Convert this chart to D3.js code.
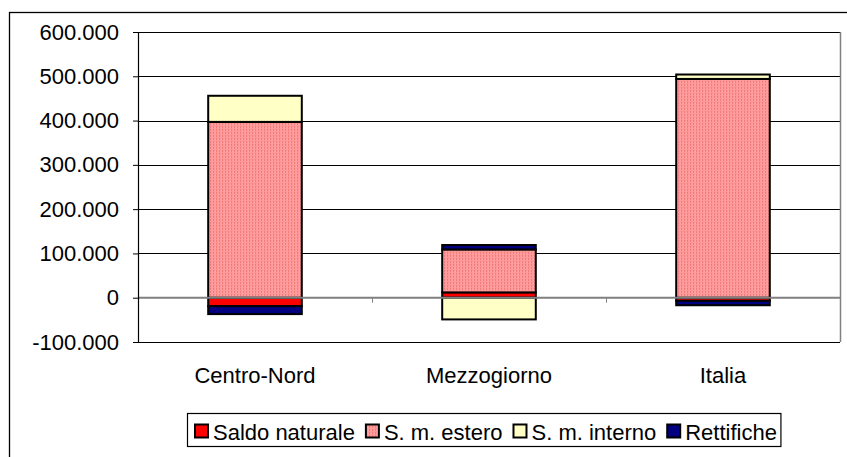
<!DOCTYPE html>
<html>
<head>
<meta charset="utf-8">
<script src="https://cdn.jsdelivr.net/npm/d3@7/dist/d3.min.js"></script>
<style>
  html, body { margin: 0; padding: 0; background: #fff; }
  svg { display: block; }
  text { font-family: Arial, "Liberation Sans", sans-serif; fill: #000; }
</style>
</head>
<body>
<svg id="chart" width="847" height="457"></svg>
<script>
// Population balance components by area
const categories = ["Centro-Nord", "Mezzogiorno", "Italia"];
const seriesNames = ["Saldo naturale", "S. m. estero", "S. m. interno", "Rettifiche"];
const saldoNaturale = [-19000, 12000, -7000];
const smEstero = [397000, 97000, 494000];
const smInterno = [59000, -49000, 10000];
const rettifiche = [-18000, 10000, -10000];
const yTicks = [-100000, 0, 100000, 200000, 300000, 400000, 500000, 600000];
const seriesColors = ["#ff0000", "url(#pinkDots)", "#ffffc6", "#000080"];

const rows = categories.map((c, i) => ({
  cat: c,
  "Saldo naturale": saldoNaturale[i],
  "S. m. estero": smEstero[i],
  "S. m. interno": smInterno[i],
  "Rettifiche": rettifiche[i]
}));

const svg = d3.select("#chart");
const fontSize = 22;

// Italian-style number format: dot as thousands separator, hyphen minus
const itFormat = d3.formatLocale({ decimal: ",", thousands: ".", grouping: [3], currency: ["", "€"], minus: "-" }).format(",");

// Pink fill with a fine dotted texture
const defs = svg.append("defs");
const pat = defs.append("pattern").attr("id", "pinkDots")
  .attr("patternUnits", "userSpaceOnUse").attr("width", 3).attr("height", 3);
pat.append("rect").attr("width", 3).attr("height", 3).attr("fill", "#ff9999");
pat.append("rect").attr("x", 0).attr("y", 0).attr("width", 1).attr("height", 2).attr("fill", "#ef7b7b");
pat.append("rect").attr("x", 2).attr("y", 1).attr("width", 1).attr("height", 1).attr("fill", "#ffaaaa");

// Outer chart frame
svg.append("rect").attr("x", 9.5).attr("y", 12.5).attr("width", 860).attr("height", 460)
  .attr("fill", "none").attr("stroke", "#000").attr("stroke-width", 1.3);

const plot = { left: 138, right: 840, top: 32, bottom: 342 };

const x = d3.scaleBand().domain(categories).range([plot.left, plot.right]).padding(0);
const y = d3.scaleLinear().domain([-100000, 600000]).range([plot.bottom, plot.top]);

// Gridlines
svg.append("g").selectAll("line").data(yTicks.filter(t => t !== 0)).join("line")
  .attr("x1", plot.left).attr("x2", plot.right)
  .attr("y1", d => Math.round(y(d)) + 0.5).attr("y2", d => Math.round(y(d)) + 0.5)
  .attr("stroke", "#000").attr("stroke-width", 1);

// Plot area right edge
svg.append("line").attr("x1", plot.right + 0.5).attr("x2", plot.right + 0.5)
  .attr("y1", plot.top).attr("y2", plot.bottom)
  .attr("stroke", "#808080").attr("stroke-width", 1.5);

// Stacked bars (positives stack up, negatives stack down)
const stack = d3.stack().keys(seriesNames).offset(d3.stackOffsetDiverging);
const layers = stack(rows);
const barW = x.bandwidth() * 0.4;
const barOff = (x.bandwidth() - barW) / 2;

svg.append("g").selectAll("g").data(layers).join("g")
  .attr("fill", (d, i) => seriesColors[i])
  .selectAll("rect").data(d => d).join("rect")
  .attr("x", d => x(d.data.cat) + barOff)
  .attr("width", barW)
  .attr("y", d => y(Math.max(d[0], d[1])))
  .attr("height", d => Math.abs(y(d[0]) - y(d[1])))
  .attr("stroke", "#000").attr("stroke-width", 2);

// Category axis at zero
const zeroY = y(0);
svg.append("line").attr("x1", plot.left).attr("x2", plot.right)
  .attr("y1", zeroY).attr("y2", zeroY)
  .attr("stroke", "#808080").attr("stroke-width", 2);
svg.append("g").selectAll("line").data(categories.slice(1)).join("line")
  .attr("x1", d => Math.round(x(d)) + 0.5).attr("x2", d => Math.round(x(d)) + 0.5)
  .attr("y1", zeroY).attr("y2", zeroY + 5)
  .attr("stroke", "#808080").attr("stroke-width", 1);

// Value axis
const yAxis = svg.append("g").attr("transform", `translate(${plot.left},0)`)
  .call(d3.axisLeft(y).tickValues(yTicks).tickSize(5).tickPadding(14)
    .tickFormat(d => itFormat(d)));
yAxis.select(".domain").attr("stroke", "#000").attr("stroke-width", 1.2);
yAxis.selectAll(".tick line").attr("stroke", "#000");
yAxis.selectAll(".tick text").attr("font-size", fontSize)
  .attr("font-family", "Arial, 'Liberation Sans', sans-serif").attr("fill", "#000");

// Category labels
svg.append("g").selectAll("text").data(categories).join("text")
  .attr("x", d => x(d) + x.bandwidth() / 2).attr("y", 383)
  .attr("text-anchor", "middle").attr("font-size", fontSize)
  .text(d => d);

// Legend
const legend = svg.append("g");
const legendBox = legend.append("rect").attr("x", 187.5).attr("y", 413.5)
  .attr("height", 33).attr("fill", "#fff").attr("stroke", "#000").attr("stroke-width", 1.2);
let lx = 195;
seriesNames.forEach((name, i) => {
  legend.append("rect").attr("x", lx).attr("y", 424.5).attr("width", 13).attr("height", 13)
    .attr("fill", seriesColors[i]).attr("stroke", "#000").attr("stroke-width", 2);
  const t = legend.append("text").attr("x", lx + 18).attr("y", 440)
    .attr("font-size", fontSize).text(name);
  lx += 18 + t.node().getComputedTextLength() + 11;
});
legendBox.attr("width", lx - 11 + 4 - 187.5);
</script>
</body>
</html>
